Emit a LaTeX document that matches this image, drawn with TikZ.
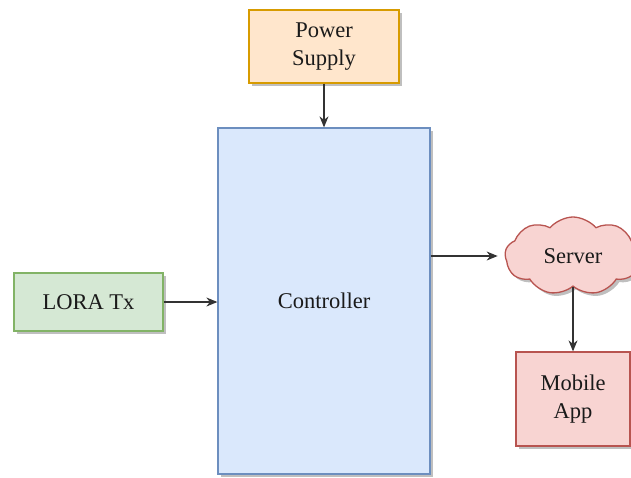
\documentclass[tikz,border=0pt]{standalone}
\usepackage{fontspec}
\setmainfont{Liberation Serif}
\usetikzlibrary{arrows.meta,shapes.symbols,shadows}
\definecolor{orfill}{HTML}{FFE6CC}\definecolor{ordraw}{HTML}{D79B00}
\definecolor{blfill}{HTML}{DAE8FC}\definecolor{bldraw}{HTML}{6C8EBF}
\definecolor{grfill}{HTML}{D5E8D4}\definecolor{grdraw}{HTML}{82B366}
\definecolor{rdfill}{HTML}{F8D4D2}\definecolor{rddraw}{HTML}{B85450}
\definecolor{txt}{HTML}{1A1A1A}
\tikzset{
  blockbox/.style={rectangle, line width=1.3pt, inner sep=0pt, align=center,
    text=txt, font=\fontsize{22.5}{28}\selectfont,
    drop shadow={shadow xshift=3pt, shadow yshift=-3pt, opacity=0.25, fill=black}},
  link/.style={line width=1.1pt, draw=black!80, -{Stealth[length=11pt,width=9pt]}}
}
\begin{document}
\begin{tikzpicture}[x=1pt,y=-1pt]
\useasboundingbox (0,0) rectangle (631,477);
\node[blockbox, fill=orfill, draw=ordraw, minimum width=150pt, minimum height=73pt]
  (power) at (324,46.5) {Power\\Supply};
\node[blockbox, fill=blfill, draw=bldraw, minimum width=212pt, minimum height=346pt]
  (ctrl) at (324,301) {Controller};
\node[blockbox, fill=grfill, draw=grdraw, minimum width=149pt, minimum height=58pt]
  (lora) at (88.5,302) {LORA Tx};
\node[blockbox, cloud, cloud puffs=9, cloud puff arc=100, aspect=1.75,
  fill=rdfill, draw=rddraw, minimum width=136pt, minimum height=78pt]
  (srv) at (573,256) {Server};
\node[blockbox, fill=rdfill, draw=rddraw, minimum width=114pt, minimum height=94pt]
  (app) at (573,399) {Mobile\\App};
\draw[link] (power) -- (ctrl.north);
\draw[link] (lora) -- (ctrl.west |- lora);
\draw[link] (ctrl.east |- srv) -- ++(67pt,0) coordinate (srvin);
\draw[link] (srv.south) -- (app.north);
\end{tikzpicture}
\end{document}
